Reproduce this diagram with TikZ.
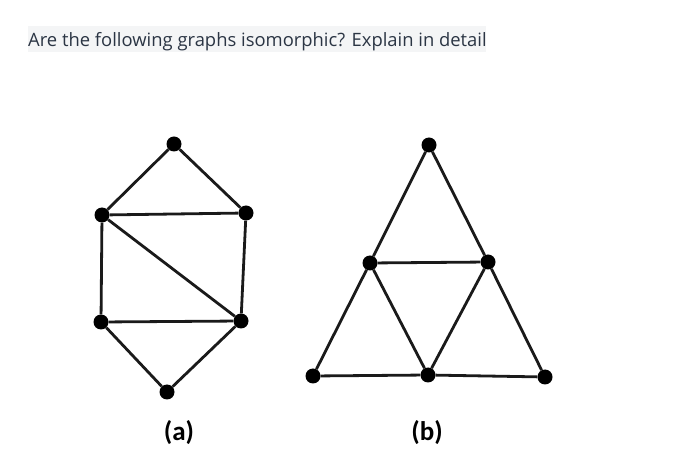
\documentclass[tikz,border=0pt]{standalone}
\usepackage{fontspec}
\setmainfont{Open Sans}
\newfontfamily\labelfont{Carlito}
\definecolor{titlegray}{HTML}{F4F5F6}
\definecolor{titletext}{HTML}{2B3544}
\definecolor{edgecol}{HTML}{1A1A1A}
\begin{document}
\begin{tikzpicture}[x=1pt,y=-1pt,
  vtx/.style={circle,fill=black,inner sep=0pt,minimum size=15pt},
  edge/.style={draw=edgecol,line width=2.8pt},
  lbl/.style={font=\labelfont\bfseries\fontsize{27}{30}\selectfont,text=black}]
\useasboundingbox (0,0) rectangle (694,470);
\fill[white] (0,0) rectangle (694,470);
\fill[titlegray] (28,26) rectangle (486,52);
\node[anchor=base west,inner sep=0pt,text=titletext,font=\fontsize{18.4}{22}\selectfont] (title) at (28,47) {Are the following graphs isomorphic? Explain in detail};
% graph (a)
\node[vtx] (a1) at (174,144) {};
\node[vtx] (a2) at (102,215) {};
\node[vtx] (a3) at (246,213) {};
\node[vtx] (a4) at (101,322) {};
\node[vtx] (a5) at (241,321) {};
\node[vtx] (a6) at (167,392) {};
\draw[edge] (a1) -- (a2);
\draw[edge] (a1) -- (a3);
\draw[edge] (a2) -- (a3);
\draw[edge] (a2) -- (a4);
\draw[edge] (a3) -- (a5);
\draw[edge] (a2) -- (a5);
\draw[edge] (a4) -- (a5);
\draw[edge] (a4) -- (a6);
\draw[edge] (a5) -- (a6);
% graph (b)
\node[vtx] (b1) at (429,145) {};
\node[vtx] (b2) at (370,263) {};
\node[vtx] (b3) at (488,262) {};
\node[vtx] (b4) at (313,376) {};
\node[vtx] (b5) at (428,375) {};
\node[vtx] (b6) at (545,377) {};
\draw[edge] (b1) -- (b2);
\draw[edge] (b1) -- (b3);
\draw[edge] (b2) -- (b3);
\draw[edge] (b2) -- (b4);
\draw[edge] (b2) -- (b5);
\draw[edge] (b3) -- (b5);
\draw[edge] (b3) -- (b6);
\draw[edge] (b4) -- (b5);
\draw[edge] (b5) -- (b6);
\node[lbl] (la) at (179,433) {(a)};
\node[lbl] (lb) at (427,433) {(b)};
\end{tikzpicture}
\end{document}
